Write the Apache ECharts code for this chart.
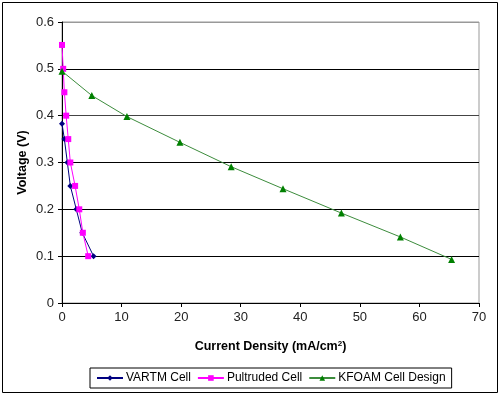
<!DOCTYPE html>
<html>
<head>
<meta charset="utf-8">
<script src="https://cdn.jsdelivr.net/npm/echarts@6/dist/echarts.min.js"></script>
<style>
  html, body { margin: 0; padding: 0; background: #fff; }
  #chart { width: 500px; height: 396px; }
</style>
</head>
<body>
<div id="chart"></div>
<script>
// current density (mA/cm2) and voltage (V) for each cell
const vartmX = [0, 0.4, 0.9, 1.4, 2.4, 3.4, 5.3];
const vartmY = [0.383, 0.35, 0.30, 0.25, 0.20, 0.15, 0.10];
const pultX = [0, 0.2, 0.4, 0.7, 1.05, 1.4, 2.2, 2.9, 3.5, 4.4];
const pultY = [0.551, 0.50, 0.45, 0.40, 0.35, 0.30, 0.25, 0.20, 0.15, 0.10];
const kfoamX = [0, 5, 10.9, 19.8, 28.4, 37.1, 46.9, 56.8, 65.4];
const kfoamY = [0.495, 0.443, 0.398, 0.343, 0.291, 0.244, 0.192, 0.141, 0.093];
const seriesNames = ['VARTM Cell', 'Pultruded Cell', 'KFOAM Cell Design'];

const pairs = (xs, ys) => xs.map((x, i) => [x, ys[i]]);

const font = 'Liberation Sans, Arial, sans-serif';
const chart = echarts.init(document.getElementById('chart'));
chart.setOption({
  backgroundColor: '#fff',
  animation: false,
  textStyle: { fontFamily: font },
  graphic: [{
    type: 'rect',
    shape: { x: 2.5, y: 2.5, width: 495, height: 390 },
    style: { fill: 'none', stroke: '#000', lineWidth: 1 },
    silent: true
  }],
  grid: {
    left: 62, right: 21, top: 22, bottom: 93,
    show: true, borderColor: '#999', borderWidth: 1
  },
  legend: {
    left: 90, top: 368,
    data: seriesNames,
    borderColor: '#000', borderWidth: 1,
    padding: [4, 6],
    itemGap: 6,
    itemWidth: 26, itemHeight: 7,
    textStyle: { fontSize: 12, color: '#000', fontFamily: font, padding: [0, 0, 0, -2] }
  },
  xAxis: {
    type: 'value',
    min: 0, max: 70, interval: 10,
    name: 'Current Density (mA/cm{sup|2})',
    nameLocation: 'middle',
    nameGap: 37,
    nameTextStyle: {
      fontSize: 12.5, fontWeight: 'bold', color: '#000', fontFamily: font,
      rich: { sup: { fontSize: 8, fontWeight: 'bold', verticalAlign: 'top', padding: [0, 0, 6, 0] } }
    },
    axisLine: { lineStyle: { color: '#000', width: 1 } },
    axisTick: { show: true, length: 4, lineStyle: { color: '#000' } },
    axisLabel: { fontSize: 13, color: '#222', margin: 8 },
    splitLine: { show: false }
  },
  yAxis: {
    type: 'value',
    min: 0, max: 0.6, interval: 0.1,
    name: 'Voltage (V)',
    nameLocation: 'middle',
    nameGap: 33,
    nameMoveOverlap: false,
    nameTextStyle: { fontSize: 12.5, fontWeight: 'bold', color: '#000', fontFamily: font },
    axisLine: { show: true, lineStyle: { color: '#000', width: 1 } },
    axisTick: { show: true, length: 4, lineStyle: { color: '#000' } },
    axisLabel: { fontSize: 13, color: '#222', margin: 8 },
    splitLine: {
      show: true,
      lineStyle: { color: ['#000', '#000', '#000', '#000', '#444', '#000', '#999'], width: 1 }
    }
  },
  series: [
    {
      name: seriesNames[0], type: 'line',
      data: pairs(vartmX, vartmY),
      symbol: 'diamond', symbolSize: 6,
      itemStyle: { color: '#000080' },
      lineStyle: { color: '#000080', width: 1 }
    },
    {
      name: seriesNames[1], type: 'line',
      data: pairs(pultX, pultY),
      symbol: 'rect', symbolSize: 6,
      itemStyle: { color: '#ff00ff' },
      lineStyle: { color: '#ff00ff', width: 1 }
    },
    {
      name: seriesNames[2], type: 'line',
      data: pairs(kfoamX, kfoamY),
      symbol: 'triangle', symbolSize: 7,
      itemStyle: { color: '#008000' },
      lineStyle: { color: '#3c8c3c', width: 1 }
    }
  ]
});
</script>
</body>
</html>
